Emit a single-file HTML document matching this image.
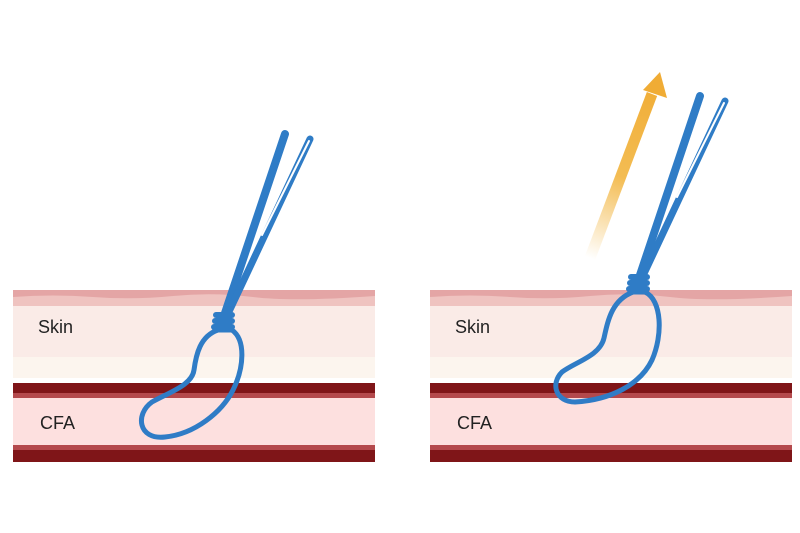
<!DOCTYPE html>
<html><head><meta charset="utf-8"><style>body{margin:0;background:#fff}svg{display:block}</style></head><body>
<svg width="800" height="533" viewBox="0 0 800 533" xmlns="http://www.w3.org/2000/svg">
<defs>
<linearGradient id="ag" x1="590" y1="258" x2="658" y2="78" gradientUnits="userSpaceOnUse">
<stop offset="0" stop-color="#f2b540" stop-opacity="0"/><stop offset="0.45" stop-color="#f2b540" stop-opacity="0.9"/><stop offset="1" stop-color="#f0ac35"/></linearGradient>
<g id="tissue">
<rect x="0" y="290" width="362" height="17" fill="#e4a5a5"/>
<path d="M0 297 Q40 294 80 297 T160 296 T240 297 T362 296 V307 H0Z" fill="#efc3c0"/>
<rect x="0" y="306" width="362" height="51" fill="#faebe7"/>
<rect x="0" y="357" width="362" height="21" fill="#fcf5ee"/>
<rect x="0" y="383" width="362" height="15" fill="#7f1518"/>
<rect x="0" y="393" width="362" height="5" fill="#b4494c"/>
<rect x="0" y="398" width="362" height="47" fill="#fde0df"/>
<rect x="0" y="445" width="362" height="17" fill="#7f1518"/>
<rect x="0" y="445" width="362" height="5" fill="#b4494c"/>
<text x="25" y="333" font-family="Liberation Sans, sans-serif" font-size="18" fill="#222">Skin</text>
<text x="27" y="429" font-family="Liberation Sans, sans-serif" font-size="18" fill="#222">CFA</text>
</g>
<g id="rods" stroke="#2f7cc6" stroke-linecap="round" fill="none">
<line x1="222" y1="322" x2="285" y2="134" stroke-width="8"/>
<line x1="226" y1="318" x2="310" y2="139" stroke-width="7"/>
<line x1="262" y1="235" x2="309" y2="141" stroke="#fff" stroke-width="2"/>
<rect x="213" y="312" width="22" height="6" rx="3" fill="#2f7cc6" stroke="none"/>
<rect x="212" y="318" width="23" height="6" rx="3" fill="#2f7cc6" stroke="none"/>
<rect x="211" y="324" width="24" height="6" rx="3" fill="#2f7cc6" stroke="none"/>
</g>
</defs>
<use href="#tissue" x="13" y="0"/>
<use href="#tissue" x="430" y="0"/>
<use href="#rods"/>
<path d="M218 330 C200 336 196 355 194 370 C192 385 170 392 152 402 C135 414 138 440 165 437 C195 434 222 412 233 390 C244 368 246 340 232 330 Z" fill="none" stroke="#2f7cc6" stroke-width="5"/>
<use href="#rods" x="415" y="-38"/>
<path d="M633 292 C612 300 608 320 604 338 C600 356 575 362 562 372 C550 384 556 402 575 402 C610 400 640 385 652 360 C663 335 662 300 645 292 Z" fill="none" stroke="#2f7cc6" stroke-width="5"/>
<line x1="590" y1="258" x2="652" y2="94" stroke="url(#ag)" stroke-width="11"/>
<polygon points="660,72 643,90 667,98" fill="#f0ac35"/>
</svg>
</body></html>
